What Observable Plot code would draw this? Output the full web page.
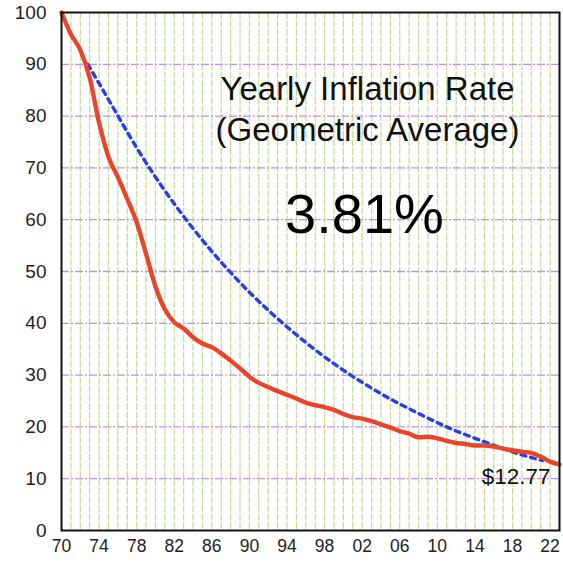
<!DOCTYPE html>
<html>
<head>
<meta charset="utf-8">
<script src="https://cdn.jsdelivr.net/npm/d3@7"></script>
<script src="https://cdn.jsdelivr.net/npm/@observablehq/plot@0.6"></script>
<style>
  html, body { margin: 0; padding: 0; background: #fff; }
  svg { display: block; }
</style>
</head>
<body>
<div id="chart"></div>
<script>
// Purchasing power of $100 (1970 dollars)
const years = [1970,1971,1972,1973,1974,1975,1976,1977,1978,1979,1980,1981,1982,1983,1984,1985,1986,1987,1988,1989,1990,1991,1992,1993,1994,1995,1996,1997,1998,1999,2000,2001,2002,2003,2004,2005,2006,2007,2008,2009,2010,2011,2012,2013,2014,2015,2016,2017,2018,2019,2020,2021,2022,2023];
const actualValues = [100,95.8,92.8,87.4,78.7,72.1,68.2,64.0,59.5,53.4,47.1,42.7,40.2,39.0,37.3,36.1,35.4,34.2,32.8,31.3,29.7,28.5,27.7,26.9,26.2,25.5,24.7,24.2,23.8,23.3,22.5,21.9,21.6,21.1,20.5,19.9,19.2,18.7,18.0,18.1,17.8,17.3,16.9,16.7,16.4,16.4,16.2,15.8,15.5,15.2,15.0,14.3,13.3,12.77];

// Dotted geometric-average curve
const avgYears = [1972.8,1975,1978,1981,1984,1987,1990,1993,1996,1999,2002,2005,2008,2011,2014,2017,2019,2021.2];
const avgValues = [90,83.2,73.9,65.6,58.3,51.8,46.0,40.9,36.3,32.2,28.6,25.4,22.6,20.0,17.8,15.8,14.6,13.5];

const xTicks = [1970,1974,1978,1982,1986,1990,1994,1998,2002,2006,2010,2014,2018,2022];
const yTicks = [0,10,20,30,40,50,60,70,80,90,100];
const gridYears = d3.range(1971, 2023);
const gridValues = [10,20,30,40,50,60,70,80,90];

const titleLines = ["Yearly Inflation Rate", "(Geometric Average)"];
const rateLabel = ["3.81%"];
const endLabel = ["$12.77"];

const actual = years.map((y, i) => ({year: y, value: actualValues[i]}));
const avg = avgYears.map((y, i) => ({year: y, value: avgValues[i]}));

const font = "Liberation Sans, Arial, Helvetica, sans-serif";
const fmtYear = d => String(d % 100).padStart(2, "0");

const chart = Plot.plot({
  width: 563,
  height: 563,
  marginLeft: 61,
  marginRight: 4,
  marginTop: 12,
  marginBottom: 33,
  style: {fontFamily: font, background: "#fff", overflow: "visible"},
  x: {domain: [1970, 2023], label: null},
  y: {domain: [0, 100], label: null},
  marks: [
    Plot.ruleX(gridYears, {stroke: "#c0dc9c", strokeWidth: 1.2, strokeDasharray: "7,1.5"}),
    Plot.ruleY(gridValues, {stroke: "#bd92e8", strokeWidth: 1.3, strokeDasharray: "8,2,2,2"}),
    Plot.line(avg, {x: "year", y: "value", stroke: "#2a3fe0", strokeWidth: 3.4, strokeDasharray: "5,5", curve: "natural"}),
    Plot.line(actual, {x: "year", y: "value", stroke: "#e9452b", strokeWidth: 4.4, curve: "monotone-x", strokeLinejoin: "round"}),
    Plot.frame({stroke: "#111", strokeWidth: 2}),
    Plot.axisX({ticks: xTicks, tickFormat: fmtYear, tickSize: 0, tickPadding: 9, fontSize: 17.5, fill: "#222", label: null}),
    Plot.axisY({ticks: yTicks, tickSize: 0, tickPadding: 15, fontSize: 19, fill: "#222", label: null}),
    Plot.text([titleLines[0]], {frameAnchor: "top", dx: 57, dy: 77, lineAnchor: "middle", fontSize: 33, fill: "#111"}),
    Plot.text([titleLines[1]], {frameAnchor: "top", dx: 57, dy: 118, lineAnchor: "middle", fontSize: 33, fill: "#111"}),
    Plot.text(rateLabel, {frameAnchor: "top", dx: 54, dy: 203, lineAnchor: "middle", fontSize: 56, fill: "#000"}),
    Plot.text(endLabel, {frameAnchor: "bottom-right", dx: -9, dy: -54, lineAnchor: "middle", textAnchor: "end", fontSize: 22.5, fill: "#111"})
  ]
});
document.getElementById("chart").appendChild(chart);
</script>
</body>
</html>
